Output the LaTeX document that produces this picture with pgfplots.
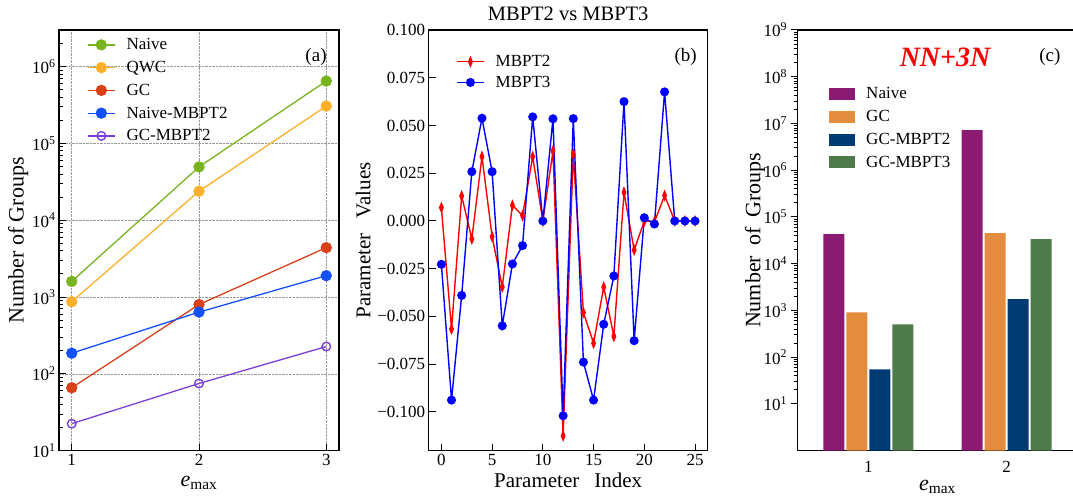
\documentclass[border=0pt]{standalone}
\usepackage{pgfplots}
\pgfplotsset{compat=1.18}
\usepackage{fontspec}
\setmainfont{Liberation Serif}

\definecolor{cgreen}{HTML}{77B41E}
\definecolor{corange}{HTML}{FDB12A}
\definecolor{cred}{HTML}{D9401A}
\definecolor{cblue}{HTML}{1450FA}
\definecolor{cpurple}{HTML}{7B3FD6}
\definecolor{bnaive}{HTML}{8B1A72}
\definecolor{bgc}{HTML}{E38C3D}
\definecolor{bgc2}{HTML}{003C73}
\definecolor{bgc3}{HTML}{4F7B4A}

\newcommand\emax{{\itshape e}\textsubscript{max}}
\newcommand\labfont{\fontsize{22}{22}\selectfont}

\begin{document}
\begin{tikzpicture}
\useasboundingbox (0pt,0pt) rectangle (1073pt,498pt);
\pgfplotsset{
  every axis/.append style={
    scale only axis,
    height=420.7pt,
    anchor=south west,
    /pgf/number format/assume math mode=true,
    tick label style={font=\fontsize{17}{17}\selectfont},
    axis line style={line width=1.2pt},
    every tick/.style={black, line width=1pt},
    major tick length=7pt,
    minor tick length=4pt,
    legend style={draw=none, fill=none, anchor=north west,
      font=\fontsize{17}{19}\selectfont, row sep=6pt, column sep=9pt, inner sep=0pt},
    legend cell align=left,
  },
}

% (a) number of groups
\begin{axis}[
    at={(59pt,47.3pt)},
    width=280pt,
    ymode=log,
    xmin=0.9, xmax=3.1,
    ymin=10, ymax=3e6,
    xtick={1,2,3},
    ytick={10,100,1000,10000,100000,1000000},
    yticklabels={10\textsuperscript{1},10\textsuperscript{2},10\textsuperscript{3},10\textsuperscript{4},10\textsuperscript{5},10\textsuperscript{6}},
    minor ytick={20,30,40,50,60,70,80,90,200,300,400,500,600,700,800,900,2000,3000,4000,5000,6000,7000,8000,9000,20000,30000,40000,50000,60000,70000,80000,90000,200000,300000,400000,500000,600000,700000,800000,900000,2000000,3000000},
    tick align=inside,
    xtick pos=bottom, ytick pos=left,
    grid=major,
    major grid style={densely dotted, gray!80, line width=0.7pt},
    xlabel={\emax},
    ylabel={Number of Groups},
    every axis x label/.style={at={(axis description cs:0.5,-0.077)}, anchor=center, font=\labfont},
    every axis y label/.style={at={(axis description cs:-0.146,0.5)}, rotate=90, anchor=center, font=\labfont},
    legend style={at={(axis description cs:0.1,0.985)}},
    legend image code/.code={\draw[mark repeat=2,mark phase=2,#1] plot coordinates {(0pt,0pt) (13.5pt,0pt) (27pt,0pt)};},
]
\addplot[cgreen, line width=1.3pt, mark=*, mark size=5pt] coordinates {(1,1600) (2,49500) (3,650000)};
\addlegendentry{Naive}
\addplot[corange, line width=1.3pt, mark=*, mark size=5pt] coordinates {(1,870) (2,23900) (3,307000)};
\addlegendentry{QWC}
\addplot[cred, line width=1.3pt, mark=*, mark size=5pt] coordinates {(1,66) (2,800) (3,4400)};
\addlegendentry{GC}
\addplot[cblue, line width=1.3pt, mark=*, mark size=5pt] coordinates {(1,186) (2,637) (3,1900)};
\addlegendentry{Naive-MBPT2}
\addplot[cpurple, line width=1.3pt, mark=o, mark size=4.3pt, mark options={line width=1.4pt, fill=white}] coordinates {(1,22.5) (2,75) (3,227)};
\addlegendentry{GC-MBPT2}
\node[font=\fontsize{19}{19}\selectfont] at (axis description cs:0.918,0.936) {(a)};
\end{axis}

% (b) parameter values
\begin{axis}[
    at={(428.7pt,47.3pt)},
    width=279pt,
    xmin=-1.25, xmax=26.25,
    ymin=-0.1203, ymax=0.1,
    xtick={0,5,10,15,20,25},
    ytick={-0.1,-0.075,-0.05,-0.025,0,0.025,0.05,0.075,0.1},
    yticklabels={−0.100,−0.075,−0.050,−0.025,0.000,0.025,0.050,0.075,0.100},
    tick align=inside,
    xtick pos=bottom, ytick pos=left,
    title={MBPT2 vs MBPT3},
    title style={font=\fontsize{20.5}{20.5}\selectfont, at={(0.5,1)}, anchor=south, inner sep=3pt},
    xlabel={Parameter\hspace{15pt}Index},
    ylabel={Parameter\hspace{15pt}Values},
    every axis x label/.style={at={(axis description cs:0.5,-0.07)}, anchor=center, font=\fontsize{21}{21}\selectfont},
    every axis y label/.style={at={(axis description cs:-0.235,0.5)}, rotate=90, anchor=center, font=\fontsize{21}{21}\selectfont},
    legend style={at={(axis description cs:0.098,0.945)}, row sep=4pt},
    legend image code/.code={\draw[mark repeat=2,mark phase=2,#1] plot coordinates {(0pt,0pt) (13.5pt,0pt) (27pt,0pt)};},
]
\addplot[red, line width=1.4pt, mark=diamond*, mark size=4.2pt, mark options={xscale=0.55}] coordinates {
 (0,0.0070) (1,-0.0566) (2,0.0131) (3,-0.0094) (4,0.0337) (5,-0.0082) (6,-0.0346)
 (7,0.0082) (8,0.0028) (9,0.0337) (10,0.0) (11,0.0367) (12,-0.1125) (13,0.0350)
 (14,-0.0480) (15,-0.0640) (16,-0.0346) (17,-0.0604) (18,0.0150) (19,-0.0152)
 (20,0.0) (21,-0.0005) (22,0.0133) (23,0.0) (24,0.0) (25,0.0)};
\addlegendentry{MBPT2}
\addplot[blue, line width=1.4pt, mark=*, mark size=3.8pt] coordinates {
 (0,-0.0227) (1,-0.0938) (2,-0.0390) (3,0.0258) (4,0.0538) (5,0.0258) (6,-0.0549)
 (7,-0.0225) (8,-0.0129) (9,0.0545) (10,0.0) (11,0.0535) (12,-0.1020) (13,0.0536)
 (14,-0.0739) (15,-0.0938) (16,-0.0541) (17,-0.0288) (18,0.0625) (19,-0.0627)
 (20,0.0017) (21,-0.0016) (22,0.0676) (23,0.0) (24,0.0) (25,0.0)};
\addlegendentry{MBPT3}
\node[font=\fontsize{19}{19}\selectfont] at (axis description cs:0.921,0.936) {(b)};
\end{axis}

% (c) NN+3N bars
\begin{axis}[
    at={(797.7pt,47.3pt)},
    width=279.6pt,
    ymode=log,
    ybar=2pt, bar width=21pt,
    xmin=0.49, xmax=2.51,
    ymin=1, ymax=1e9,
    xtick={1,2},
    xtick style={draw=none},
    ytick={10,100,1000,10000,100000,1000000,10000000,100000000,1000000000},
    yticklabels={10\textsuperscript{1},10\textsuperscript{2},10\textsuperscript{3},10\textsuperscript{4},10\textsuperscript{5},10\textsuperscript{6},10\textsuperscript{7},10\textsuperscript{8},10\textsuperscript{9}},
    minor ytick={},
    tick align=outside,
    xtick pos=bottom, ytick pos=left,
    xlabel={\emax},
    ylabel={Number\hspace{10pt}of\hspace{10pt}Groups},
    every axis x label/.style={at={(axis description cs:0.5,-0.085)}, anchor=center, font=\labfont},
    every axis y label/.style={at={(axis description cs:-0.153,0.5)}, rotate=90, anchor=center, font=\labfont},
    legend style={at={(axis description cs:0.112,0.868)}},
]
\addplot[fill=bnaive, draw=none, legend image code/.code={\fill[bnaive] (0pt,-6pt) rectangle (26pt,6pt);}] coordinates {(1,43000) (2,7200000)};
\addlegendentry{Naive}
\addplot[fill=bgc, draw=none, legend image code/.code={\fill[bgc] (0pt,-6pt) rectangle (26pt,6pt);}] coordinates {(1,915) (2,45000)};
\addlegendentry{GC}
\addplot[fill=bgc2, draw=none, legend image code/.code={\fill[bgc2] (0pt,-6pt) rectangle (26pt,6pt);}] coordinates {(1,55) (2,1740)};
\addlegendentry{GC-MBPT2}
\addplot[fill=bgc3, draw=none, legend image code/.code={\fill[bgc3] (0pt,-6pt) rectangle (26pt,6pt);}] coordinates {(1,506) (2,33500)};
\addlegendentry{GC-MBPT3}
\node[font=\fontsize{28}{28}\selectfont\bfseries\itshape, text=red] at (axis description cs:0.527,0.936) {NN+3N};
\node[font=\fontsize{19}{19}\selectfont] at (axis description cs:0.902,0.936) {(c)};
\end{axis}
\end{tikzpicture}
\end{document}
